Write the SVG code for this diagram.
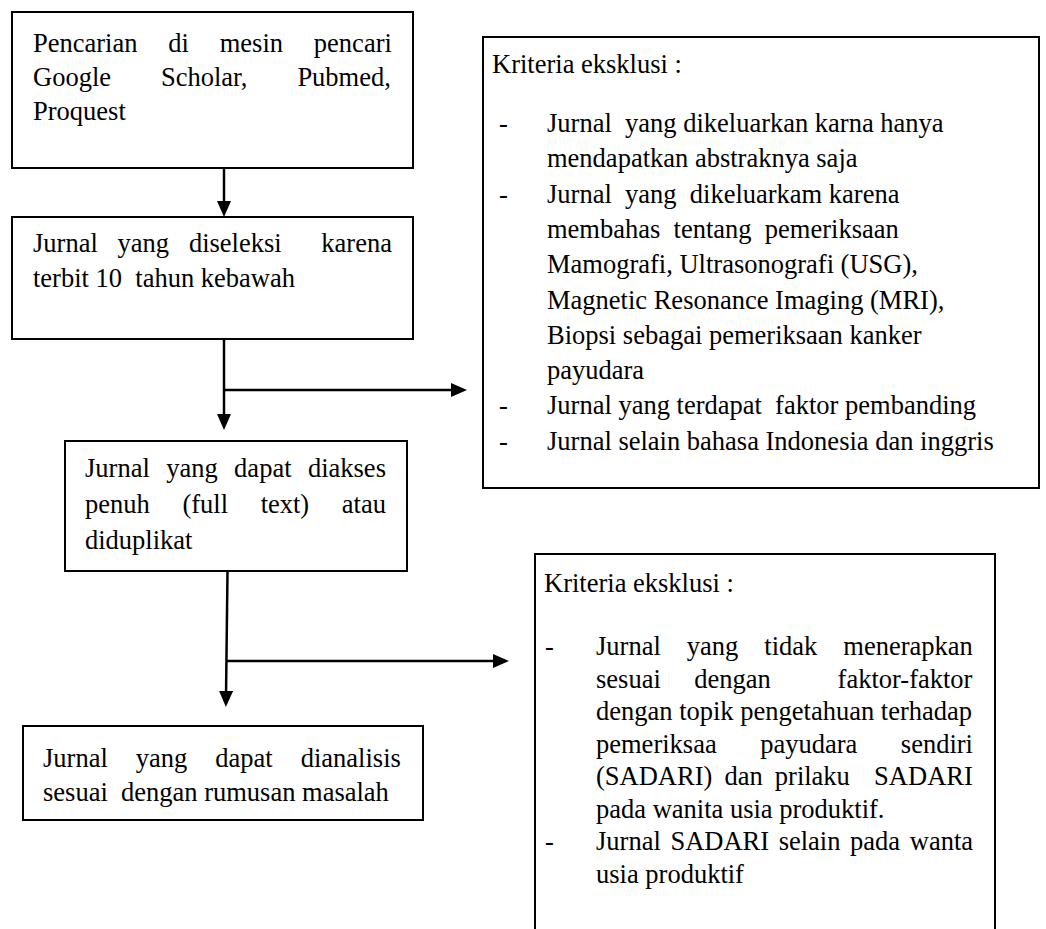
<svg xmlns="http://www.w3.org/2000/svg" width="1046" height="929" viewBox="0 0 1046 929" xml:space="preserve">
<style>
.box{fill:#fff;stroke:#000;stroke-width:2}
.t{font-family:"Liberation Serif","Times New Roman",serif;font-size:26.5px;fill:#000;white-space:pre}
.c{stroke:#000;stroke-width:2.5;fill:none}
</style>
<defs>
<marker id="ah" markerWidth="16" markerHeight="14" refX="6" refY="7" orient="auto" markerUnits="userSpaceOnUse"><path d="M0,0 L16,7 L0,14 Z" fill="#000"/></marker>
</defs>
<rect width="1046" height="929" fill="#fff"/>
<g id="connectors">
<line class="c" x1="224" y1="168" x2="224" y2="207" marker-end="url(#ah)"/>
<line class="c" x1="224" y1="339" x2="224" y2="420" marker-end="url(#ah)"/>
<line class="c" x1="224" y1="390" x2="457" y2="390" marker-end="url(#ah)"/>
<line class="c" x1="227.5" y1="571" x2="226" y2="697" marker-end="url(#ah)"/>
<line class="c" x1="226" y1="661" x2="499" y2="661" marker-end="url(#ah)"/>
</g>
<g id="node-search">
<rect class="box" x="12" y="12" width="401" height="156"/>
<text class="t" x="33" y="52" style="word-spacing:24.2px">Pencarian di mesin pencari</text>
<text class="t" x="33" y="86" style="word-spacing:43.3px">Google Scholar, Pubmed,</text>
<text class="t" x="33" y="120">Proquest</text>
</g>
<g id="node-selected">
<rect class="box" x="12" y="217" width="401" height="122"/>
<text class="t" x="33" y="252" style="word-spacing:13.2px">Jurnal yang diseleksi  karena</text>
<text class="t" x="33" y="287">terbit 10  tahun kebawah</text>
</g>
<g id="node-fulltext">
<rect class="box" x="65" y="441" width="342" height="130"/>
<text class="t" x="85" y="477" style="word-spacing:9.8px">Jurnal yang dapat diakses</text>
<text class="t" x="85" y="513" style="word-spacing:26px">penuh (full text) atau</text>
<text class="t" x="85" y="549">diduplikat</text>
</g>
<g id="node-analysed">
<rect class="box" x="23" y="726" width="400" height="94"/>
<text class="t" x="43" y="767" style="word-spacing:21.4px">Jurnal yang dapat dianalisis</text>
<text class="t" x="43" y="801">sesuai  dengan rumusan masalah</text>
</g>
<g id="node-exclusion-1">
<rect class="box" x="483" y="37" width="556" height="451"/>
<text class="t" x="492" y="73">Kriteria eksklusi :</text>
<text class="t" x="499" y="132">-</text>
<text class="t" x="547" y="132">Jurnal  yang dikeluarkan karna hanya</text>
<text class="t" x="547" y="167.3">mendapatkan abstraknya saja</text>
<text class="t" x="499" y="202.6">-</text>
<text class="t" x="547" y="202.6">Jurnal  yang  dikeluarkam karena</text>
<text class="t" x="547" y="237.9">membahas  tentang  pemeriksaan</text>
<text class="t" x="547" y="273.2">Mamografi, Ultrasonografi (USG),</text>
<text class="t" x="547" y="308.5">Magnetic Resonance Imaging (MRI),</text>
<text class="t" x="547" y="343.8">Biopsi sebagai pemeriksaan kanker</text>
<text class="t" x="547" y="379.1">payudara</text>
<text class="t" x="499" y="414.4">-</text>
<text class="t" x="547" y="414.4">Jurnal yang terdapat  faktor pembanding</text>
<text class="t" x="499" y="449.7">-</text>
<text class="t" x="547" y="449.7">Jurnal selain bahasa Indonesia dan inggris</text>
</g>
<g id="node-exclusion-2">
<rect class="box" x="535" y="554" width="460" height="390"/>
<text class="t" x="544" y="592">Kriteria eksklusi :</text>
<text class="t" x="545" y="655">-</text>
<text class="t" x="596" y="655" style="word-spacing:19.4px">Jurnal yang tidak menerapkan</text>
<text class="t" x="596" y="687.5" style="word-spacing:26.8px">sesuai dengan  faktor-faktor</text>
<text class="t" x="596" y="720">dengan topik pengetahuan terhadap</text>
<text class="t" x="596" y="752.5" style="word-spacing:36.9px">pemeriksaa payudara sendiri</text>
<text class="t" x="596" y="785" style="word-spacing:5.5px">(SADARI) dan prilaku  SADARI</text>
<text class="t" x="596" y="817.5">pada wanita usia produktif.</text>
<text class="t" x="545" y="850">-</text>
<text class="t" x="596" y="850" style="word-spacing:3px">Jurnal SADARI selain pada wanta</text>
<text class="t" x="596" y="882.5">usia produktif</text>
</g>
</svg>
